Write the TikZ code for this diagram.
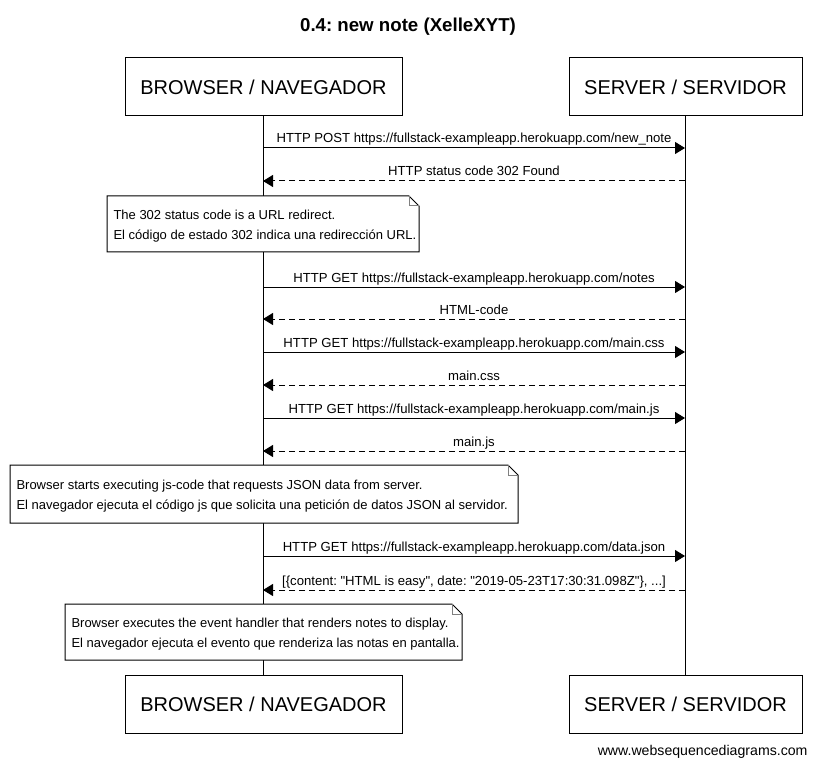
\documentclass[tikz,border=0pt]{standalone}
\usepackage{fontspec}
\setmainfont{Liberation Sans}[Ligatures=NoCommon]
\usetikzlibrary{arrows.meta}
\frenchspacing
\begin{document}
\begin{tikzpicture}[x=0.75pt,y=-0.75pt,line width=0.75pt,
  actor/.style={draw, fill=white, minimum height=43.5pt, inner sep=0pt, font=\fontsize{15}{18}\selectfont},
  msg/.style={-{Triangle[length=7.5pt,width=9pt]}},
  ret/.style={msg, dash pattern=on 4.5pt off 3pt},
  lbl/.style={font=\fontsize{9.85}{12}\selectfont, anchor=base, inner sep=0pt, yshift=3.75pt},
  notebox/.style={fill=white, align=left, inner sep=0pt, font=\fontsize{9.75}{14.6}\selectfont},
  foldline/.style={draw=gray, line width=0.75pt}]
\useasboundingbox (0,0) rectangle (816,766);
\fill[white] (0,0) rectangle (816,766);

\node[font=\bfseries\fontsize{14}{17}\selectfont, anchor=base, inner sep=0pt] (title) at (408,32) {0.4: new note (XelleXYT)};

\node[actor, minimum width=207.75pt] (bt) at (263.5,87) {BROWSER / NAVEGADOR};
\node[actor, minimum width=174.75pt] (st) at (685.5,87) {SERVER / SERVIDOR};
\node[actor, minimum width=207.75pt] (bb) at (263.5,704) {BROWSER / NAVEGADOR};
\node[actor, minimum width=174.75pt] (sb) at (685.5,704) {SERVER / SERVIDOR};

\draw (bt) -- (bb);
\draw (st) -- (sb);

\foreach \i/\y in {1/148,2/181,3/287,4/319,5/352,6/385,7/418,8/451,9/556,10/590}{
  \coordinate (b\i) at (263,\y);
  \coordinate (s\i) at (685,\y);
}

\draw[msg] (b1) -- (s1) node[lbl, midway] {HTTP POST https://fullstack-exampleapp.herokuapp.com/new\_note};
\draw[ret] (s2) -- (b2) node[lbl, midway] {HTTP status code 302 Found};
\draw[msg] (b3) -- (s3) node[lbl, midway] {HTTP GET https://fullstack-exampleapp.herokuapp.com/notes};
\draw[ret] (s4) -- (b4) node[lbl, midway] {HTML-code};
\draw[msg] (b5) -- (s5) node[lbl, midway] {HTTP GET https://fullstack-exampleapp.herokuapp.com/main.css};
\draw[ret] (s6) -- (b6) node[lbl, midway] {main.css};
\draw[msg] (b7) -- (s7) node[lbl, midway] {HTTP GET https://fullstack-exampleapp.herokuapp.com/main.js};
\draw[ret] (s8) -- (b8) node[lbl, midway] {main.js};
\draw[msg] (b9) -- (s9) node[lbl, midway] {HTTP GET https://fullstack-exampleapp.herokuapp.com/data.json};
\draw[ret] (s10) -- (b10) node[lbl, midway] {[\{content: \textquotedbl HTML is easy\textquotedbl, date: \textquotedbl 2019-05-23T17:30:31.098Z\textquotedbl\}, ...]};

% notes
\foreach \xa/\xb/\ya/\yb in {107/419/196/252, 10/518/465/523, 65/462/604/660}{
  \path[fill=white,draw=black] (\xa,\yb) -- (\xa,\ya) -- (\xb-10,\ya) -- (\xb,\ya+10) -- (\xb,\yb) -- cycle;
  \draw[foldline] (\xb-10,\ya) -- (\xb-10,\ya+10) -- (\xb,\ya+10);
}
\node[notebox, anchor=west] (n1) at (113,226.3) {The 302 status code is a URL redirect.\\El código de estado 302 indica una redirección URL.};
\node[notebox, anchor=west] (n2) at (16,496.3) {Browser starts executing js-code that requests JSON data from server.\\El navegador ejecuta el código js que solicita una petición de datos JSON al servidor.};
\node[notebox, anchor=west] (n3) at (71,634.3) {Browser executes the event handler that renders notes to display.\\El navegador ejecuta el evento que renderiza las notas en pantalla.};

\node[anchor=base east, inner sep=0pt, font=\fontsize{10.6}{12}\selectfont] (foot) at (808,755) {www.websequencediagrams.com};
\end{tikzpicture}
\end{document}
